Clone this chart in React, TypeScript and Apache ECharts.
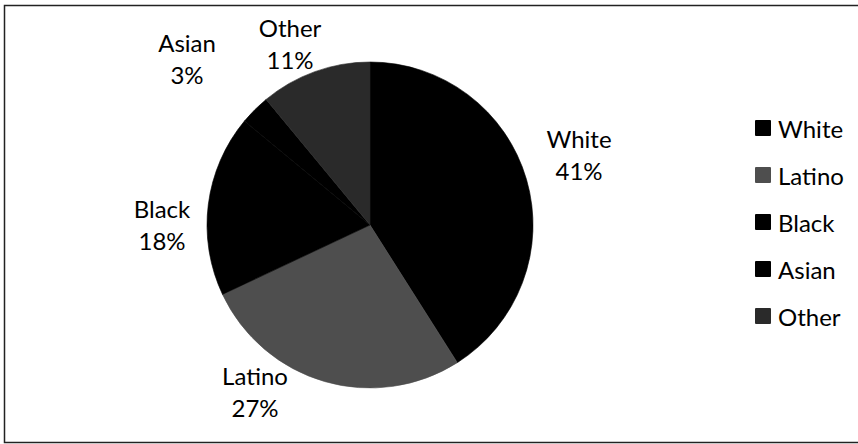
import React, { useEffect, useRef } from "react";
import * as echarts from "echarts";

const categories = ["White", "Latino", "Black", "Asian", "Other"];
const shares = [41, 27, 18, 3, 11];
const sliceColors = ["#000000", "#4e4e4e", "#000000", "#000000", "#2a2a2a"];
// label anchor points (px) in the chart, matching the reference placement
const LABEL_POS: [number, number][] = [
  [579, 154],
  [255, 391],
  [162, 224],
  [187, 58],
  [290, 43],
];

const FONT = "Lato, 'Open Sans', 'DejaVu Sans', sans-serif";

export default function App() {
  const ref = useRef<HTMLDivElement>(null);
  useEffect(() => {
    document.body.style.margin = "0";
    if (!ref.current) return;
    const chart = echarts.init(ref.current, undefined, { renderer: "svg" });
    chart.setOption({
      animation: false,
      backgroundColor: "#ffffff",
      textStyle: { fontFamily: FONT },
      graphic: [
        {
          type: "rect",
          shape: { x: 4.5, y: 5.5, width: 860, height: 437 },
          style: { fill: "none", stroke: "#222", lineWidth: 1.5 },
          silent: true,
        },
      ],
      legend: {
        orient: "vertical",
        left: 750,
        top: 108,
        itemWidth: 14,
        itemHeight: 14,
        itemGap: 17,
        icon: "rect",
        data: categories,
        textStyle: {
          fontFamily: FONT,
          fontSize: 24,
          lineHeight: 30,
          color: "#000",
          padding: [0, 0, 0, 3],
        },
      },
      series: [
        {
          type: "pie",
          center: [370, 225],
          radius: 163,
          startAngle: 90,
          clockwise: true,
          avoidLabelOverlap: false,
          label: {
            show: true,
            position: "outside",
            formatter: "{b}\n{c}%",
            fontFamily: FONT,
            fontSize: 24,
            lineHeight: 32,
            color: "#000",
            align: "center",
          },
          labelLine: { show: false },
          labelLayout: (params: any) => {
            const p = LABEL_POS[params.dataIndex];
            return { x: p[0], y: p[1], align: "center", verticalAlign: "middle" };
          },
          emphasis: { disabled: true },
          data: categories.map((name, i) => ({
            name,
            value: shares[i],
            itemStyle: {
              color: sliceColors[i],
              borderColor: sliceColors[i],
              borderWidth: 0.6,
            },
          })),
        },
      ],
    });
    return () => chart.dispose();
  }, []);
  return <div ref={ref} style={{ width: 858, height: 444 }} />;
}
